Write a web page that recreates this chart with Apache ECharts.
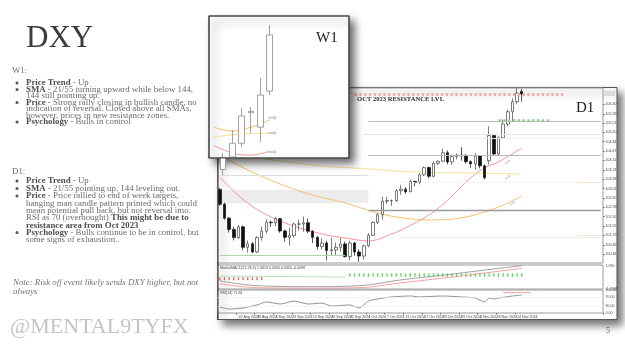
<!DOCTYPE html>
<html><head><meta charset="utf-8">
<script src="https://cdn.jsdelivr.net/npm/echarts@6/dist/echarts.min.js"></script>
<style>html,body{margin:0;padding:0;background:#fff}#c{width:625px;height:352px}</style>
</head><body><div id="c"></div>
<script>
// ---------- D1 daily data ----------
const d1Dates = ['16 Aug 2024','19 Aug 2024','20 Aug 2024','21 Aug 2024','22 Aug 2024','23 Aug 2024','26 Aug 2024','27 Aug 2024','28 Aug 2024','29 Aug 2024','30 Aug 2024','2 Sep 2024','3 Sep 2024','4 Sep 2024','5 Sep 2024','6 Sep 2024','9 Sep 2024','10 Sep 2024','11 Sep 2024','12 Sep 2024','13 Sep 2024','16 Sep 2024','17 Sep 2024','18 Sep 2024','19 Sep 2024','20 Sep 2024','23 Sep 2024','24 Sep 2024','25 Sep 2024','26 Sep 2024','27 Sep 2024','30 Sep 2024','1 Oct 2024','2 Oct 2024','3 Oct 2024','4 Oct 2024','7 Oct 2024','8 Oct 2024','9 Oct 2024','10 Oct 2024','11 Oct 2024','14 Oct 2024','15 Oct 2024','16 Oct 2024','17 Oct 2024','18 Oct 2024','21 Oct 2024','22 Oct 2024','23 Oct 2024','24 Oct 2024','25 Oct 2024','28 Oct 2024','29 Oct 2024','30 Oct 2024','31 Oct 2024','1 Nov 2024','4 Nov 2024','5 Nov 2024','6 Nov 2024','7 Nov 2024','8 Nov 2024','11 Nov 2024','12 Nov 2024','13 Nov 2024','14 Nov 2024','15 Nov 2024'];
const d1Open  = [102.98,102.40,101.86,101.42,101.10,101.52,100.72,100.86,100.54,101.10, 101.35,101.70,101.68,101.84,101.36,101.11,101.18,101.63,101.63,101.68, 101.35,101.11,100.75,100.89,100.60,100.62,100.72,100.85,100.36,100.89, 100.54,100.38,100.78,101.19,101.69,101.99,102.52,102.54,102.54,102.93, 102.99,102.89,103.29,103.26,103.55,103.83,103.49,104.00,104.08,104.41, 104.05,104.26,104.32,104.30,104.06,103.98,104.28,103.90,104.10,105.08, 104.36,104.99,105.53,106.01,106.40,106.80];
const d1Close = [102.40,101.86,101.42,101.10,101.52,100.72,100.86,100.54,101.10,101.35, 101.70,101.68,101.84,101.36,101.11,101.18,101.63,101.63,101.68,101.35, 101.11,100.75,100.89,100.60,100.62,100.72,100.85,100.36,100.89,100.54, 100.38,100.78,101.19,101.69,101.99,102.52,102.54,102.54,102.93,102.99, 102.89,103.29,103.26,103.55,103.83,103.49,104.00,104.08,104.41,104.05, 104.26,104.32,104.30,104.06,103.98,104.28,103.90,103.43,105.08,104.36, 104.99,105.53,106.01,106.40,106.74,106.70];
const d1Low   = [102.34,101.80,101.30,100.99,101.05,100.60,100.52,100.51,100.50,100.98, 101.26,101.52,101.55,101.29,100.94,100.79,101.10,101.37,101.33,101.27, 100.89,100.64,100.64,100.21,100.38,100.39,100.55,100.32,100.22,100.39, 100.16,100.24,100.73,101.17,101.63,101.80,102.41,102.34,102.49,102.77, 102.80,102.87,103.10,103.18,103.50,103.41,103.45,103.93,104.04,103.96, 103.94,104.15,104.10,103.99,103.82,103.75,103.80,103.37,103.95,104.28, 104.30,104.95,105.44,105.65,106.30,106.40];
const d1High  = [103.03,102.47,101.91,101.52,101.59,101.57,100.99,100.93,101.16,101.53, 101.82,101.77,101.91,101.87,101.41,101.49,101.69,101.80,101.92,101.85, 101.39,101.16,101.07,100.98,101.10,100.91,101.09,100.94,100.98,100.93, 100.65,100.81,101.28,101.74,102.06,102.69,102.69,102.59,102.99,103.16, 103.07,103.36,103.32,103.61,103.87,103.87,104.07,104.11,104.57,104.50, 104.34,104.38,104.63,104.36,104.12,104.39,104.28,103.95,105.44,105.10, 105.05,105.70,106.09,106.53,106.93,106.90];
const d1DateTicks = ['16 Aug 2024','22 Aug 2024','28 Aug 2024','3 Sep 2024','9 Sep 2024','13 Sep 2024','19 Sep 2024','25 Sep 2024','1 Oct 2024','7 Oct 2024','11 Oct 2024','17 Oct 2024','23 Oct 2024','29 Oct 2024','4 Nov 2024','8 Nov 2024','14 Nov 2024'];
const d1PriceTicks = [106.30,105.93,105.57,105.20,104.84,104.47,104.11,103.74,103.38,103.01,102.65,102.28,101.92,101.55,101.19,100.82,100.46];

// moving averages (bar index, value)
const sma21Idx = [0,6,13,22,27,32,37,40,46,50,53,57,60,65];
const sma21Val = [103.46,102.45,101.75,101.24,101.09,100.97,101.24,101.48,102.10,102.72,103.27,103.82,104.05,104.59];
const sma55Idx = [0,6,13,20,27,34,41,46,52,57,61,65];
const sma55Val = [104.32,103.74,103.19,102.76,102.45,102.06,101.83,101.79,101.87,102.10,102.37,102.72];
const sma144Idx = [0,20,32,42,54,65];
const sma144Val = [104.44,103.93,103.78,103.66,103.62,103.58];

// horizontal levels on D1
const resistancePrice = 106.70, resistanceFrom = 29, resistanceTo = 74;
const targetPrice = 105.69, targetFrom = 60, targetTo = 71;
const levelPrices = [105.65,105.14,104.98,104.32,103.54,103.27,102.18,101.12,100.42];
const levelFrom   = [32,31,39,32,0,39,32,39,0];
const levelTo     = [82,82,82,82,32,82,82,82,27];
const zoneHigh = 102.96, zoneLow = 102.45, zoneFrom = 0, zoneTo = 32;

// MACD panel
const macdIdx = [0,8,20,30,39,50,60,65];
const macdMain = [-0.47,-0.96,-1.06,-0.96,-0.37,0.22,0.81,1.08];
const macdSignal = [-0.77,-1.16,-1.21,-1.16,-0.67,-0.08,0.51,0.81];
const macdGreenIdx = [0,27];
const macdGreenVal = [0.02,-0.08];
const macdTicks = [1.09,-1.2581];
const macdTickText = ['1.090','-1.2581'];

// RSI panel
const rsiIdx = [0,2,5,8,10,13,16,19,22,24,28,30,32,34,37,41,43,48,52,55,57,58,59,60,63,65];
const rsiVal = [26,17,22,35,48,39,52,39,43,30,35,22,52,61,70,74,70,74,70,65,48,65,61,65,74,78];
const rsiTicks = [100,70,30,0];

// ---------- W1 weekly data ----------
const w1Weeks = ['30 Sep 2024','7 Oct 2024','14 Oct 2024','21 Oct 2024','28 Oct 2024','4 Nov 2024','11 Nov 2024'];
const w1Open  = [100.38,102.52,102.90,103.32,104.25,103.81,104.91];
const w1Close = [102.52,102.89,103.32,104.15,104.29,104.79,106.62];
const w1Low   = [100.24,102.34,102.80,103.20,103.63,103.35,104.79];
const w1High  = [102.69,103.02,103.72,104.39,104.42,105.31,106.92];
const w1OrangeIdx = [0,2,4,6], w1OrangeVal = [103.81,103.69,103.81,104.03];
const w1YellowIdx = [0,3,6],   w1YellowVal = [103.51,103.60,103.63];
const w1PinkIdx   = [0,2,4,6], w1PinkVal   = [103.26,103.02,102.96,103.08];
const w1LevelPrices = [105.64,104.27];
const w1ZoneLow = 106.67, w1ZoneHigh = 107.20;
const w1TargetPrice = 105.64;

// ---------- build ----------
const D1_SLOTS = 83, W1_SLOTS = 15;
const d1Cats = d1Dates.slice(); for (let i = d1Cats.length; i < D1_SLOTS; i++) d1Cats.push('pad' + i);
const w1Cats = w1Weeks.slice(); for (let i = w1Cats.length; i < W1_SLOTS; i++) w1Cats.push('wpad' + i);
const tickSet = new Set(d1DateTicks);
const pairs = (ix, vs) => ix.map((x, k) => [x, vs[k]]);

const SERIF = '"Liberation Serif","Times New Roman",serif';
const SANS = '"Liberation Sans",Arial,sans-serif';
const tiny = {fontSize: 3.6, color: '#444', fontFamily: SANS};

const chart = echarts.init(document.getElementById('c'), null, {renderer: 'canvas', width: 625, height: 352});

const levelStyles = [
  {color:'#b9b9b9', width:1}, {color:'#e4e4e4', width:1}, {color:'#eeeeee', width:1},
  {color:'#b9b9b9', width:1}, {color:'#dcdcdc', width:1}, {color:'#ececec', width:1, type:[2,2]},
  {color:'#9a9a9a', width:1.3}, {color:'#ececec', width:1}, {color:'#a8d8a8', width:1}
];
const d1MarkLines = levelPrices.map((p, k) => [
  {coord: [levelFrom[k], p], lineStyle: Object.assign({type: 'solid'}, levelStyles[k])},
  {coord: [levelTo[k], p]}
]);
d1MarkLines.push([{coord:[resistanceFrom, resistancePrice], lineStyle:{color:'#f2a0a0', width:2.6, type:[2.4,2.4]}}, {coord:[resistanceTo, resistancePrice]}]);
d1MarkLines.push([{coord:[targetFrom, targetPrice], lineStyle:{color:'#93cc93', width:2.6, type:[2.4,2.4]}}, {coord:[targetTo, targetPrice]}]);
d1MarkLines.push([{coord:[77, 103.27], lineStyle:{color:'#f4c08c', width:0.8, type:[1,1]}}, {coord:[82, 103.27]}]);
d1MarkLines.push([{coord:[77, 101.20], lineStyle:{color:'#f4c08c', width:0.8, type:[1,1]}}, {coord:[82, 101.20]}]);

const arrowPath = 'path://M0,3 L6,3 L6,0 L10,5 L6,10 L6,7 L0,7 Z';

const series = [
  {type:'candlestick', name:'D1', xAxisIndex:0, yAxisIndex:0, z:3, barWidth:3,
   data: d1Open.map((o,i)=>[o, d1Close[i], d1Low[i], d1High[i]]),
   itemStyle:{color:'#ffffff', color0:'#111111', borderColor:'#444', borderColor0:'#111', borderWidth:0.7},
   markLine:{silent:true, symbol:['none','none'], label:{show:false}, animation:false, data:d1MarkLines},
   markArea:{silent:true, itemStyle:{color:'#ececec'}, data:[[{coord:[zoneFrom, zoneHigh]},{coord:[zoneTo, zoneLow]}]]}
  },
  {type:'line', name:'SMA21', xAxisIndex:0, yAxisIndex:0, z:2, data:pairs(sma21Idx, sma21Val), smooth:0.4, showSymbol:false, lineStyle:{color:'#f08c8c', width:0.9}},
  {type:'line', name:'SMA55', xAxisIndex:0, yAxisIndex:0, z:2, data:pairs(sma55Idx, sma55Val), smooth:0.4, showSymbol:false, lineStyle:{color:'#f7bf6e', width:1}},
  {type:'line', name:'SMA144', xAxisIndex:0, yAxisIndex:0, z:2, data:pairs(sma144Idx, sma144Val), smooth:0.4, showSymbol:false, lineStyle:{color:'#f8e29a', width:1}},
  {type:'scatter', name:'arrows', xAxisIndex:0, yAxisIndex:0, z:2, symbol:arrowPath, symbolSize:[7,4], symbolRotate:35,
   itemStyle:{color:'#cfcfcf'}, data:[[62,104.05],[62,103.46],[63,102.45]]},
  // MACD
  {type:'line', xAxisIndex:1, yAxisIndex:1, data:pairs(macdIdx, macdMain), smooth:0.4, showSymbol:false, lineStyle:{color:'#8a8a8a', width:0.8}},
  {type:'line', xAxisIndex:1, yAxisIndex:1, data:pairs(macdIdx, macdSignal), smooth:0.4, showSymbol:false, lineStyle:{color:'#ef8c8c', width:0.8}},
  {type:'line', xAxisIndex:1, yAxisIndex:1, data:pairs(macdGreenIdx, macdGreenVal), showSymbol:false, lineStyle:{color:'#a6d9a6', width:0.8}},
  {type:'scatter', xAxisIndex:1, yAxisIndex:1, symbol:'rect', symbolSize:[1.3,3], itemStyle:{color:'#d33'},
   data: d1Dates.slice(0,10).map((d,i)=>[i,-0.25])},
  {type:'scatter', xAxisIndex:1, yAxisIndex:1, symbol:'rect', symbolSize:[1.3,3.5], itemStyle:{color:'#33cc33'},
   data: d1Dates.slice(28).map((d,i)=>[i+28,0.12])},
  // RSI
  {type:'line', xAxisIndex:2, yAxisIndex:2, data:pairs(rsiIdx, rsiVal), smooth:0.2, showSymbol:false, lineStyle:{color:'#777', width:0.8},
   markArea:{silent:true, itemStyle:{color:'#f6b3b3'}, data:[[{coord:[61,92]},{coord:[67,86]}]]},
   markLine:{silent:true, symbol:['none','none'], label:{show:false}, lineStyle:{color:'#eeeeee', width:0.6, type:'solid'},
     data:[{yAxis:70},{yAxis:30}]}},
  // W1
  {type:'candlestick', name:'W1', xAxisIndex:3, yAxisIndex:3, z:8, barWidth:6, clip:true,
   data: w1Open.map((o,i)=>[o, w1Close[i], w1Low[i], w1High[i]]),
   itemStyle:{color:'#ffffff', color0:'#222', borderColor:'#8a8a8a', borderColor0:'#222', borderWidth:0.8},
   markLine:{silent:true, symbol:['none','none'], label:{show:false}, animation:false, data:[
     [{coord:[0, w1LevelPrices[0]], lineStyle:{color:'#b5b5b5', width:1.2, type:'solid'}}, {coord:[13, w1LevelPrices[0]]}],
     [{coord:[0, w1LevelPrices[1]], lineStyle:{color:'#c4c4c4', width:2.2, type:'solid'}}, {coord:[13, w1LevelPrices[1]]}],
     [{coord:[5, w1TargetPrice], lineStyle:{color:'#95cf95', width:2.6, type:[3,4]}}, {coord:[8, w1TargetPrice]}]
   ]},
   markArea:{silent:true, itemStyle:{color:'#f0f0f0'}, data:[[{coord:[0, w1ZoneHigh]},{coord:[14, w1ZoneLow]}]]}
  },
  {type:'line', xAxisIndex:3, yAxisIndex:3, z:7, data:pairs(w1OrangeIdx, w1OrangeVal), smooth:0.4, showSymbol:false, lineStyle:{color:'#f6bc6a', width:1}},
  {type:'line', xAxisIndex:3, yAxisIndex:3, z:7, data:pairs(w1YellowIdx, w1YellowVal), smooth:0.4, showSymbol:false, lineStyle:{color:'#f6de8a', width:1}},
  {type:'line', xAxisIndex:3, yAxisIndex:3, z:7, data:pairs(w1PinkIdx, w1PinkVal), smooth:0.4, showSymbol:false, lineStyle:{color:'#f09a9a', width:1}},
  {type:'scatter', xAxisIndex:3, yAxisIndex:3, z:7, symbol:arrowPath, symbolSize:[9,5], symbolOffset:[3,0],
   itemStyle:{color:'#c4c4c4'}, data:[[6,104.10],[6,103.63],[6,103.05]]}
];

const hidX = (gi, data) => ({type:'category', gridIndex:gi, data, boundaryGap:true, axisLine:{show:false}, axisTick:{show:false}, axisLabel:{show:false}, splitLine:{show:false}});

// ---------- text on the slide ----------
const W1Lines = [
  [83,  true,  [['Price Trend',1],[' - Up',0]]],
  [89.5,true,  [['SMA',1],[' - 21/55 turning upward while below 144,',0]]],
  [96,  false, [['144 still pointing up.',0]]],
  [102.5,true, [['Price',1],[' - Strong rally closing in bullish candle, no',0]]],
  [109, false, [['indication of reversal. Closed above all SMAs,',0]]],
  [115.5,false,[['however, prices in new resistance zones.',0]]],
  [122, true,  [['Psychology',1],[' - Bulls in control',0]]]
];
const D1Lines = [
  [181,  true,  [['Price Trend',1],[' - Up',0]]],
  [188.5,true,  [['SMA',1],[' - 21/55 pointing up, 144 leveling out.',0]]],
  [196,  true,  [['Price',1],[' - Price rallied to end of week targets,',0]]],
  [203.3,false, [['hanging man candle pattern printed which could',0]]],
  [210.6,false, [['mean potential pull back, but not reversal imo.',0]]],
  [218,  false, [['RSI as 70 (overbought) ',0],['This might be due to',1]]],
  [225.3,false, [['resistance area from Oct 2023',1]]],
  [232.6,true,  [['Psychology',1],[' - Bulls continue to be in control, but',0]]],
  [240,  false, [['some signs of exhaustion..',0]]]
];
const FS = 8.85;
const rich = {
  b:{fontFamily:SERIF, fontSize:FS, fontWeight:'bold', fill:'#4d4d4d', color:'#4d4d4d', lineHeight:7},
  n:{fontFamily:SERIF, fontSize:FS, fill:'#6b6b6b', color:'#6b6b6b', lineHeight:7}
};
const gfx = [];
function addLines(lines) {
  lines.forEach(([y, bullet, parts]) => {
    if (bullet) gfx.push({type:'circle', z:1, shape:{cx:17, cy:y, r:1.5}, style:{fill:'#555'}});
    gfx.push({type:'text', z:1, style:{x:26, y, verticalAlign:'middle', align:'left',
      text: parts.map(([t,b]) => '{' + (b ? 'b' : 'n') + '|' + t + '}').join(''), rich,
      font: FS + 'px ' + SERIF}});
  });
}
gfx.push({type:'text', z:1, style:{x:26, y:39, text:'DXY', font:'31px ' + SERIF, fill:'#3c3c3c', verticalAlign:'middle'}});
gfx.push({type:'text', z:1, style:{x:12, y:71, text:'W1:', font:FS + 'px ' + SERIF, fill:'#6b6b6b', verticalAlign:'middle'}});
addLines(W1Lines);
gfx.push({type:'text', z:1, style:{x:12, y:171.5, text:'D1:', font:FS + 'px ' + SERIF, fill:'#6b6b6b', verticalAlign:'middle'}});
addLines(D1Lines);
gfx.push({type:'text', z:1, style:{x:13, y:283, text:'Note: Risk off event likely sends DXY higher, but not', font:'italic ' + FS + 'px ' + SERIF, fill:'#737373', verticalAlign:'middle'}});
gfx.push({type:'text', z:1, style:{x:13, y:291.5, text:'always', font:'italic ' + FS + 'px ' + SERIF, fill:'#737373', verticalAlign:'middle'}});
gfx.push({type:'text', z:1, style:{x:10, y:327, text:'@MENTAL9TYFX', font:'22px ' + SERIF, fill:'#c4c4c4', verticalAlign:'middle'}});
gfx.push({type:'text', z:1, style:{x:606, y:331, text:'5', font:'8px ' + SERIF, fill:'#555', verticalAlign:'middle'}});

// D1 window frame
gfx.push({type:'rect', z:-5, shape:{x:217.5, y:87.5, width:399.5, height:232}, style:{fill:'#fff', stroke:'#555', lineWidth:1, shadowBlur:8, shadowOffsetX:5, shadowOffsetY:5, shadowColor:'rgba(0,0,0,0.55)'}});
gfx.push({type:'line', z:4, shape:{x1:218, y1:88, x2:218, y2:320}, style:{stroke:'#222', lineWidth:1}});
gfx.push({type:'rect', z:4, shape:{x:604, y:91, width:11, height:5}, style:{fill:'#dddddd'}});
gfx.push({type:'text', z:4, style:{x:576, y:108, text:'D1', font:'15px ' + SERIF, fill:'#222', verticalAlign:'middle'}});
gfx.push({type:'text', z:4, style:{x:357, y:99.5, text:'OCT 2023 RESISTANCE LVL', font:'bold 6.6px ' + SERIF, fill:'#333', verticalAlign:'middle'}});
gfx.push({type:'text', z:4, style:{x:220, y:268, text:'MarketMACD(12,26,9) 1.0813 0.0350 0.0350 -0.0098', font:'3.6px ' + SANS, fill:'#444', verticalAlign:'middle'}});
gfx.push({type:'text', z:4, style:{x:220, y:293, text:'RSI(14) 71.84', font:'3.6px ' + SANS, fill:'#444', verticalAlign:'middle'}});
// W1 window
gfx.push({type:'rect', z:6, shape:{x:209, y:16, width:140, height:142}, style:{fill:'#fff', stroke:'#555', lineWidth:1, shadowBlur:8, shadowOffsetX:5, shadowOffsetY:5, shadowColor:'rgba(0,0,0,0.6)'}});
gfx.push({type:'rect', z:9, shape:{x:209, y:16, width:140, height:142}, style:{fill:'none', stroke:'#444', lineWidth:1.2}});
gfx.push({type:'text', z:9, style:{x:316, y:38, text:'W1', font:'15px ' + SERIF, fill:'#222', verticalAlign:'middle'}});

chart.setOption({
  animation:false,
  backgroundColor:'#ffffff',
  grid:[
    {left:217.5, top:88, width:385.5, height:175, show:true, borderColor:'#9a9a9a', borderWidth:1, containLabel:false},
    {left:217.5, top:265, width:385.5, height:24, show:true, borderColor:'#9a9a9a', borderWidth:1},
    {left:217.5, top:290, width:385.5, height:23, show:true, borderColor:'#9a9a9a', borderWidth:1},
    {left:209, top:16, width:140, height:142, show:false}
  ],
  xAxis:[
    hidX(0, d1Cats), hidX(1, d1Cats),
    {type:'category', gridIndex:2, data:d1Cats, boundaryGap:true, axisLine:{show:false}, splitLine:{show:false},
     axisTick:{show:true, length:1.5, interval:(i,v)=>tickSet.has(v), lineStyle:{color:'#666'}},
     axisLabel:Object.assign({show:true, margin:2, align:'left', interval:(i,v)=>tickSet.has(v)}, tiny)},
    hidX(3, w1Cats)
  ],
  yAxis:[
    {type:'value', gridIndex:0, position:'right', min:100.11, max:106.935, scale:true, splitLine:{show:false}, axisLine:{show:false},
     axisTick:{show:true, length:1.5, customValues:d1PriceTicks, lineStyle:{color:'#666'}},
     axisLabel:Object.assign({margin:2.5, customValues:d1PriceTicks, formatter:v=>v.toFixed(2)}, tiny)},
    {type:'value', gridIndex:1, position:'right', min:-1.3, max:1.15, splitLine:{show:false}, axisLine:{show:false},
     axisTick:{show:false},
     axisLabel:Object.assign({margin:2.5, customValues:macdTicks, formatter:v=>macdTickText[macdTicks.indexOf(v)] || ''}, tiny)},
    {type:'value', gridIndex:2, position:'right', min:0, max:100, splitLine:{show:false}, axisLine:{show:false},
     axisTick:{show:false},
     axisLabel:Object.assign({margin:2.5, customValues:rsiTicks, formatter:v=>v.toFixed(2)}, tiny)},
    {type:'value', gridIndex:3, min:102.87, max:107.20, show:false, splitLine:{show:false}}
  ],
  graphic:{elements:gfx},
  series
});
</script></body></html>
